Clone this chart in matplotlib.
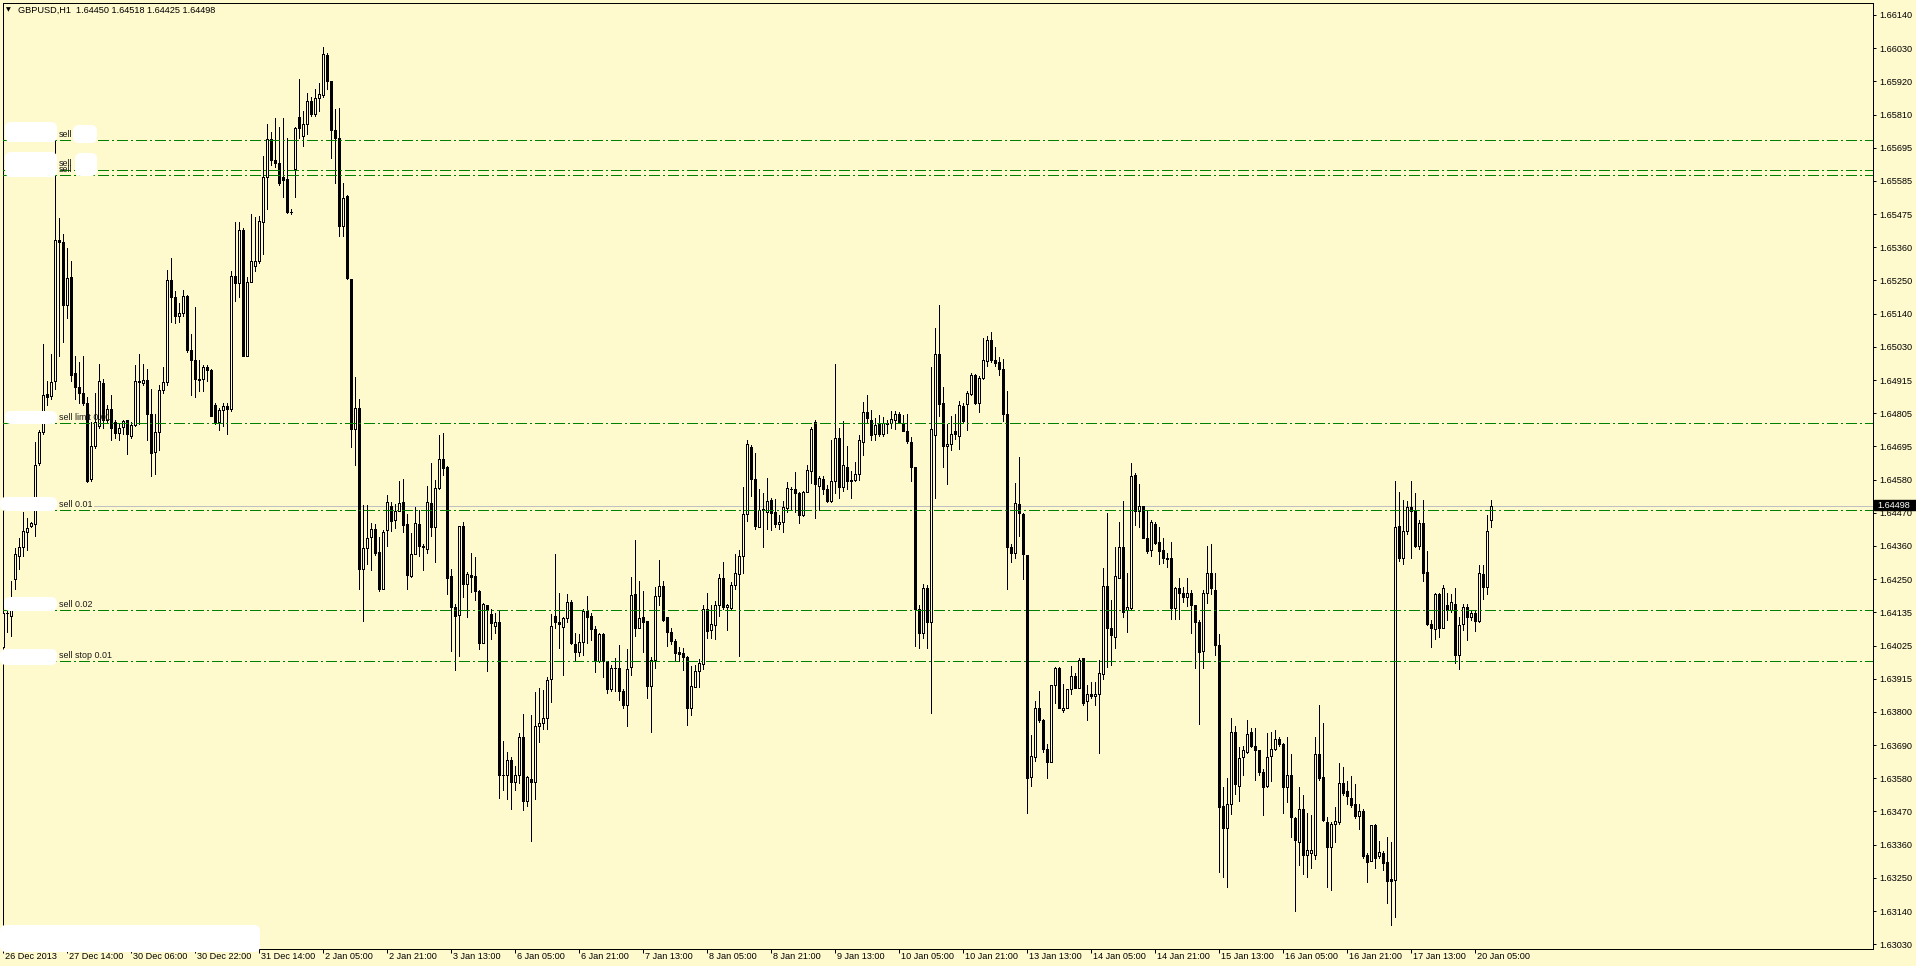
"""GBPUSD H1 candlestick chart, MT4 style -> out.png"""

import matplotlib

matplotlib.use("Agg")
import matplotlib.pyplot as plt  # noqa: E402
import numpy as np  # noqa: E402
from matplotlib import transforms  # noqa: E402
from matplotlib.patches import FancyBboxPatch, Rectangle  # noqa: E402

W, H = 1916, 966
BG = "#FFFACD"

opens = [
    1.64025, 1.64137, 1.64130, 1.64253, 1.64328, 1.64358, 1.64410, 1.64430, 1.64437, 1.64639,
    1.64744, 1.64870, 1.64865, 1.64915, 1.65387, 1.65380, 1.65168, 1.65264, 1.64943, 1.64895,
    1.64874, 1.64840, 1.64587, 1.64697, 1.64765, 1.64908, 1.64785, 1.64822, 1.64779, 1.64740,
    1.64762, 1.64785, 1.64731, 1.64768, 1.64913, 1.64908, 1.64919, 1.64803, 1.64676, 1.64744,
    1.64885, 1.64913, 1.65253, 1.65195, 1.65134, 1.65141, 1.65198, 1.65018, 1.64986, 1.64922,
    1.64922, 1.64962, 1.64953, 1.64836, 1.64779, 1.64817, 1.64832, 1.64820, 1.65266, 1.65243,
    1.65421, 1.64997, 1.65247, 1.65300, 1.65315, 1.65448, 1.65598, 1.65724, 1.65656, 1.65646,
    1.65598, 1.65591, 1.65479, 1.65626, 1.65799, 1.65735, 1.65776, 1.65851, 1.65810, 1.65861,
    1.65871, 1.66005, 1.65919, 1.65755, 1.65728, 1.65432, 1.65533, 1.65257, 1.64754, 1.64825,
    1.64287, 1.64355, 1.64394, 1.64418, 1.64342, 1.64220, 1.64415, 1.64495, 1.64449, 1.64481,
    1.64509, 1.64435, 1.64263, 1.64335, 1.64435, 1.64364, 1.64352, 1.64506, 1.64425, 1.64557,
    1.64653, 1.64628, 1.64263, 1.64157, 1.64133, 1.64430, 1.64235, 1.64265, 1.64262, 1.64211,
    1.64039, 1.64164, 1.64136, 1.64096, 1.64107, 1.63598, 1.63595, 1.63646, 1.63572, 1.63597,
    1.63723, 1.63511, 1.63584, 1.63572, 1.63762, 1.63770, 1.63788, 1.63917, 1.64127, 1.64110,
    1.64093, 1.64121, 1.64175, 1.64034, 1.64009, 1.64042, 1.64144, 1.64128, 1.64085, 1.63977,
    1.64068, 1.63977, 1.63884, 1.63955, 1.63955, 1.63878, 1.63832, 1.63957, 1.64201, 1.64088,
    1.64124, 1.64111, 1.63895, 1.63981, 1.64194, 1.64228, 1.64124, 1.64076, 1.64045, 1.64008,
    1.64004, 1.63991, 1.63819, 1.63892, 1.63943, 1.63969, 1.64153, 1.64081, 1.64099, 1.64164,
    1.64257, 1.64158, 1.64155, 1.64232, 1.64269, 1.64328, 1.64469, 1.64693, 1.64588, 1.64427,
    1.64482, 1.64477, 1.64517, 1.64477, 1.64435, 1.64442, 1.64491, 1.64552, 1.64552, 1.64540,
    1.64465, 1.64544, 1.64615, 1.64779, 1.64565, 1.64587, 1.64554, 1.64515, 1.64579, 1.64724,
    1.64560, 1.64627, 1.64585, 1.64584, 1.64603, 1.64711, 1.64811, 1.64784, 1.64736, 1.64771,
    1.64738, 1.64771, 1.64775, 1.64784, 1.64803, 1.64776, 1.64748, 1.64712, 1.64627, 1.64151,
    1.64070, 1.64222, 1.64108, 1.64734, 1.65004, 1.64840, 1.64696, 1.64704, 1.64748, 1.64730,
    1.64830, 1.64837, 1.64872, 1.64934, 1.64840, 1.64926, 1.64983, 1.65052, 1.64984, 1.64978,
    1.64955, 1.64805, 1.64361, 1.64338, 1.64503, 1.64471, 1.64333, 1.63589, 1.63656, 1.63820,
    1.63780, 1.63684, 1.63641, 1.63897, 1.63956, 1.63814, 1.63822, 1.63883, 1.63927, 1.63889,
    1.63987, 1.63843, 1.63866, 1.63860, 1.63866, 1.63935, 1.64229, 1.64087, 1.64059, 1.64257,
    1.64358, 1.64150, 1.64156, 1.64600, 1.64481, 1.64498, 1.64391, 1.64349, 1.64438, 1.64376,
    1.64349, 1.64323, 1.64322, 1.64154, 1.64221, 1.64204, 1.64193, 1.64207, 1.64165, 1.64109,
    1.64012, 1.64204, 1.64271, 1.64217, 1.64030, 1.63492, 1.63420, 1.63498, 1.63739, 1.63560,
    1.63657, 1.63672, 1.63739, 1.63694, 1.63680, 1.63607, 1.63560, 1.63661, 1.63682, 1.63716,
    1.63700, 1.63557, 1.63596, 1.63454, 1.63373, 1.63484, 1.63330, 1.63334, 1.63328, 1.63668,
    1.63590, 1.63440, 1.63356, 1.63434, 1.63440, 1.63568, 1.63542, 1.63518, 1.63501, 1.63460,
    1.63476, 1.63328, 1.63309, 1.63429, 1.63325, 1.63337, 1.63306, 1.63247, 1.63244, 1.64429,
    1.64324, 1.64414, 1.64492, 1.64483, 1.64362, 1.64441, 1.64276, 1.64101, 1.64086, 1.64202,
    1.64089, 1.64165, 1.64150, 1.64170, 1.63998, 1.64101, 1.64157, 1.64124, 1.64137, 1.64112,
    1.64269, 1.64224, 1.64450,
]
highs = [
    1.64178, 1.64178, 1.64246, 1.64355, 1.64389, 1.64478, 1.64458, 1.64444, 1.64710, 1.64751,
    1.65038, 1.64915, 1.65004, 1.65721, 1.65462, 1.65407, 1.65359, 1.65318, 1.64997, 1.64977,
    1.64997, 1.64861, 1.64779, 1.64874, 1.64973, 1.64922, 1.64833, 1.64867, 1.64785, 1.64772,
    1.64785, 1.64785, 1.64779, 1.64970, 1.65004, 1.64973, 1.64956, 1.64888, 1.64806, 1.64902,
    1.64963, 1.65288, 1.65325, 1.65216, 1.65175, 1.65220, 1.65202, 1.65072, 1.65161, 1.64984,
    1.64967, 1.64970, 1.64956, 1.64840, 1.64826, 1.64840, 1.64840, 1.65284, 1.65448, 1.65448,
    1.65427, 1.65264, 1.65475, 1.65464, 1.65468, 1.65667, 1.65776, 1.65748, 1.65796, 1.65765,
    1.65796, 1.65728, 1.65489, 1.65765, 1.65926, 1.65817, 1.65878, 1.65865, 1.65892, 1.65912,
    1.66033, 1.66011, 1.65919, 1.65824, 1.65830, 1.65578, 1.65537, 1.65257, 1.64929, 1.64854,
    1.64499, 1.64499, 1.64441, 1.64435, 1.64394, 1.64416, 1.64532, 1.64509, 1.64503, 1.64580,
    1.64586, 1.64469, 1.64407, 1.64492, 1.64483, 1.64371, 1.64563, 1.64642, 1.64583, 1.64733,
    1.64741, 1.64630, 1.64285, 1.64167, 1.64430, 1.64443, 1.64277, 1.64339, 1.64326, 1.64215,
    1.64172, 1.64164, 1.64153, 1.64138, 1.64147, 1.63711, 1.63672, 1.63658, 1.63626, 1.63737,
    1.63802, 1.63593, 1.63798, 1.63875, 1.63887, 1.63881, 1.63926, 1.64136, 1.64336, 1.64206,
    1.64124, 1.64201, 1.64181, 1.64073, 1.64068, 1.64153, 1.64196, 1.64138, 1.64096, 1.64073,
    1.64070, 1.63979, 1.63966, 1.63989, 1.64032, 1.63884, 1.64019, 1.64258, 1.64382, 1.64245,
    1.64213, 1.64113, 1.63991, 1.64226, 1.64317, 1.64245, 1.64124, 1.64088, 1.64051, 1.64025,
    1.64022, 1.63994, 1.63960, 1.63964, 1.63983, 1.64164, 1.64204, 1.64164, 1.64179, 1.64269,
    1.64308, 1.64170, 1.64243, 1.64336, 1.64348, 1.64560, 1.64718, 1.64701, 1.64675, 1.64552,
    1.64540, 1.64590, 1.64523, 1.64519, 1.64465, 1.64515, 1.64577, 1.64560, 1.64609, 1.64542,
    1.64546, 1.64635, 1.64761, 1.64784, 1.64598, 1.64598, 1.64568, 1.64719, 1.64972, 1.64759,
    1.64782, 1.64696, 1.64615, 1.64644, 1.64733, 1.64845, 1.64869, 1.64819, 1.64791, 1.64802,
    1.64794, 1.64784, 1.64813, 1.64814, 1.64811, 1.64802, 1.64803, 1.64727, 1.64627, 1.64166,
    1.64235, 1.64231, 1.64961, 1.65093, 1.65168, 1.64895, 1.64771, 1.64799, 1.64805, 1.64849,
    1.64842, 1.64880, 1.64941, 1.64937, 1.64932, 1.65059, 1.65067, 1.65079, 1.65030, 1.64995,
    1.64990, 1.64880, 1.64370, 1.64572, 1.64661, 1.64473, 1.64333, 1.63730, 1.63843, 1.63877,
    1.63785, 1.63699, 1.63897, 1.63958, 1.63958, 1.63901, 1.63883, 1.63962, 1.63939, 1.63989,
    1.63989, 1.63897, 1.63906, 1.63906, 1.63981, 1.64289, 1.64473, 1.64183, 1.64358, 1.64444,
    1.64513, 1.64271, 1.64642, 1.64608, 1.64570, 1.64498, 1.64483, 1.64449, 1.64444, 1.64425,
    1.64391, 1.64340, 1.64375, 1.64226, 1.64257, 1.64226, 1.64256, 1.64217, 1.64165, 1.64115,
    1.64215, 1.64362, 1.64369, 1.64271, 1.64068, 1.63557, 1.63585, 1.63788, 1.63760, 1.63691,
    1.63693, 1.63780, 1.63755, 1.63755, 1.63680, 1.63618, 1.63738, 1.63739, 1.63746, 1.63724,
    1.63702, 1.63724, 1.63668, 1.63456, 1.63557, 1.63529, 1.63468, 1.63462, 1.63722, 1.63829,
    1.63772, 1.63456, 1.63440, 1.63490, 1.63635, 1.63622, 1.63577, 1.63593, 1.63566, 1.63501,
    1.63481, 1.63334, 1.63429, 1.63432, 1.63375, 1.63343, 1.63389, 1.63373, 1.64580, 1.64544,
    1.64518, 1.64514, 1.64580, 1.64539, 1.64449, 1.64518, 1.64346, 1.64115, 1.64204, 1.64204,
    1.64232, 1.64204, 1.64202, 1.64221, 1.64126, 1.64168, 1.64168, 1.64150, 1.64146, 1.64299,
    1.64299, 1.64466, 1.64518,
]
lows = [
    1.64020, 1.64075, 1.64061, 1.64219, 1.64287, 1.64328, 1.64348, 1.64426, 1.64396, 1.64635,
    1.64738, 1.64833, 1.64854, 1.64888, 1.64997, 1.65045, 1.65127, 1.64915, 1.64854, 1.64840,
    1.64836, 1.64578, 1.64581, 1.64690, 1.64758, 1.64758, 1.64779, 1.64717, 1.64724, 1.64717,
    1.64738, 1.64669, 1.64724, 1.64765, 1.64772, 1.64902, 1.64717, 1.64597, 1.64604, 1.64683,
    1.64874, 1.64902, 1.65113, 1.65109, 1.65113, 1.65134, 1.65011, 1.64867, 1.64863, 1.64881,
    1.64881, 1.64915, 1.64799, 1.64772, 1.64751, 1.64765, 1.64738, 1.64813, 1.65182, 1.65195,
    1.64997, 1.64997, 1.65247, 1.65284, 1.65311, 1.65339, 1.65489, 1.65639, 1.65632, 1.65571,
    1.65530, 1.65478, 1.65475, 1.65530, 1.65728, 1.65703, 1.65742, 1.65803, 1.65803, 1.65817,
    1.65865, 1.65892, 1.65660, 1.65578, 1.65400, 1.65400, 1.65257, 1.64694, 1.64635, 1.64219,
    1.64112, 1.64301, 1.64283, 1.64334, 1.64213, 1.64220, 1.64362, 1.64413, 1.64422, 1.64481,
    1.64409, 1.64220, 1.64260, 1.64335, 1.64328, 1.64283, 1.64339, 1.64396, 1.64308, 1.64552,
    1.64602, 1.64201, 1.64013, 1.63949, 1.63994, 1.64192, 1.64124, 1.64209, 1.64181, 1.64017,
    1.64039, 1.63946, 1.64051, 1.64073, 1.63519, 1.63547, 1.63516, 1.63482, 1.63545, 1.63570,
    1.63480, 1.63491, 1.63375, 1.63516, 1.63708, 1.63751, 1.63751, 1.63841, 1.64090, 1.64022,
    1.63932, 1.64107, 1.64034, 1.63980, 1.63994, 1.63998, 1.64039, 1.64047, 1.63941, 1.63975,
    1.63923, 1.63870, 1.63878, 1.63878, 1.63847, 1.63819, 1.63762, 1.63932, 1.64060, 1.64088,
    1.64009, 1.63855, 1.63740, 1.63955, 1.64164, 1.64113, 1.64028, 1.64034, 1.63977, 1.63977,
    1.63949, 1.63765, 1.63798, 1.63892, 1.63892, 1.63951, 1.64056, 1.64056, 1.64053, 1.64130,
    1.64153, 1.64082, 1.64153, 1.64220, 1.63996, 1.64271, 1.64447, 1.64531, 1.64419, 1.64425,
    1.64358, 1.64419, 1.64416, 1.64425, 1.64419, 1.64408, 1.64477, 1.64482, 1.64477, 1.64440,
    1.64462, 1.64542, 1.64572, 1.64457, 1.64482, 1.64538, 1.64511, 1.64511, 1.64540, 1.64523,
    1.64546, 1.64554, 1.64523, 1.64579, 1.64584, 1.64667, 1.64773, 1.64716, 1.64719, 1.64730,
    1.64730, 1.64742, 1.64757, 1.64753, 1.64773, 1.64748, 1.64707, 1.64580, 1.64027, 1.64021,
    1.64054, 1.64021, 1.63805, 1.64523, 1.64799, 1.64627, 1.64569, 1.64684, 1.64722, 1.64688,
    1.64773, 1.64750, 1.64869, 1.64837, 1.64811, 1.64923, 1.64964, 1.64978, 1.64966, 1.64934,
    1.64780, 1.64220, 1.64310, 1.64323, 1.64396, 1.64252, 1.63468, 1.63558, 1.63644, 1.63774,
    1.63673, 1.63586, 1.63639, 1.63837, 1.63820, 1.63808, 1.63822, 1.63869, 1.63886, 1.63886,
    1.63831, 1.63780, 1.63854, 1.63831, 1.63670, 1.63918, 1.63958, 1.63964, 1.64023, 1.64257,
    1.64126, 1.64076, 1.64148, 1.64433, 1.64427, 1.64388, 1.64340, 1.64329, 1.64371, 1.64302,
    1.64307, 1.64293, 1.64117, 1.64119, 1.64118, 1.64176, 1.64163, 1.64072, 1.63955, 1.63767,
    1.63955, 1.64173, 1.64202, 1.63997, 1.63272, 1.63256, 1.63220, 1.63465, 1.63532, 1.63510,
    1.63596, 1.63671, 1.63691, 1.63581, 1.63598, 1.63462, 1.63557, 1.63577, 1.63680, 1.63693,
    1.63470, 1.63507, 1.63390, 1.63142, 1.63295, 1.63265, 1.63256, 1.63284, 1.63314, 1.63581,
    1.63442, 1.63222, 1.63211, 1.63373, 1.63434, 1.63531, 1.63498, 1.63488, 1.63451, 1.63414,
    1.63317, 1.63239, 1.63309, 1.63284, 1.63317, 1.63278, 1.63169, 1.63095, 1.63120, 1.64313,
    1.64302, 1.64402, 1.64321, 1.64358, 1.64354, 1.64246, 1.64098, 1.64025, 1.64053, 1.64057,
    1.64087, 1.64115, 1.64143, 1.63972, 1.63952, 1.64081, 1.64048, 1.64115, 1.64079, 1.64109,
    1.64187, 1.64201, 1.64425,
]
closes = [
    1.64137, 1.64139, 1.64191, 1.64335, 1.64358, 1.64413, 1.64423, 1.64440, 1.64635, 1.64744,
    1.64867, 1.64861, 1.64913, 1.65387, 1.65380, 1.65168, 1.65259, 1.64936, 1.64895, 1.64874,
    1.64840, 1.64581, 1.64697, 1.64779, 1.64915, 1.64785, 1.64822, 1.64758, 1.64740, 1.64758,
    1.64781, 1.64738, 1.64768, 1.64915, 1.64915, 1.64919, 1.64803, 1.64673, 1.64744, 1.64885,
    1.64913, 1.65253, 1.65195, 1.65134, 1.65141, 1.65198, 1.65018, 1.64986, 1.64922, 1.64918,
    1.64962, 1.64953, 1.64799, 1.64779, 1.64817, 1.64832, 1.64820, 1.65266, 1.65243, 1.65421,
    1.64997, 1.65247, 1.65315, 1.65315, 1.65451, 1.65598, 1.65724, 1.65656, 1.65646, 1.65578,
    1.65589, 1.65479, 1.65480, 1.65762, 1.65762, 1.65776, 1.65851, 1.65810, 1.65861, 1.65874,
    1.66008, 1.65919, 1.65755, 1.65728, 1.65432, 1.65526, 1.65259, 1.64754, 1.64825, 1.64287,
    1.64355, 1.64389, 1.64421, 1.64339, 1.64220, 1.64411, 1.64509, 1.64446, 1.64481, 1.64506,
    1.64432, 1.64267, 1.64337, 1.64439, 1.64362, 1.64359, 1.64509, 1.64428, 1.64557, 1.64653,
    1.64624, 1.64257, 1.64158, 1.64130, 1.64430, 1.64235, 1.64269, 1.64260, 1.64211, 1.64039,
    1.64170, 1.64147, 1.64106, 1.64107, 1.63598, 1.63595, 1.63646, 1.63572, 1.63595, 1.63723,
    1.63511, 1.63589, 1.63574, 1.63762, 1.63771, 1.63788, 1.63915, 1.64094, 1.64107, 1.64102,
    1.64121, 1.64175, 1.64039, 1.64009, 1.64043, 1.64146, 1.64124, 1.64085, 1.63977, 1.64068,
    1.63977, 1.63884, 1.63955, 1.63953, 1.63878, 1.63832, 1.63951, 1.64198, 1.64088, 1.64122,
    1.64107, 1.63895, 1.63981, 1.64194, 1.64228, 1.64116, 1.64076, 1.64045, 1.64006, 1.64002,
    1.63992, 1.63819, 1.63895, 1.63943, 1.63972, 1.64153, 1.64079, 1.64102, 1.64164, 1.64257,
    1.64158, 1.64164, 1.64232, 1.64271, 1.64328, 1.64469, 1.64704, 1.64588, 1.64431, 1.64482,
    1.64486, 1.64512, 1.64473, 1.64436, 1.64442, 1.64494, 1.64556, 1.64554, 1.64540, 1.64465,
    1.64544, 1.64617, 1.64753, 1.64569, 1.64590, 1.64555, 1.64515, 1.64580, 1.64724, 1.64560,
    1.64635, 1.64579, 1.64579, 1.64603, 1.64718, 1.64811, 1.64790, 1.64733, 1.64768, 1.64736,
    1.64773, 1.64773, 1.64788, 1.64803, 1.64776, 1.64748, 1.64713, 1.64627, 1.64152, 1.64070,
    1.64222, 1.64108, 1.64753, 1.65004, 1.64837, 1.64699, 1.64704, 1.64738, 1.64736, 1.64833,
    1.64782, 1.64874, 1.64935, 1.64840, 1.64925, 1.64984, 1.65052, 1.64984, 1.64976, 1.64955,
    1.64803, 1.64361, 1.64338, 1.64506, 1.64473, 1.64335, 1.63586, 1.63659, 1.63820, 1.63780,
    1.63682, 1.63641, 1.63897, 1.63956, 1.63822, 1.63820, 1.63883, 1.63927, 1.63889, 1.63981,
    1.63839, 1.63866, 1.63862, 1.63866, 1.63937, 1.64229, 1.64087, 1.64064, 1.64262, 1.64358,
    1.64143, 1.64159, 1.64597, 1.64481, 1.64496, 1.64391, 1.64346, 1.64443, 1.64373, 1.64347,
    1.64323, 1.64318, 1.64154, 1.64221, 1.64204, 1.64193, 1.64207, 1.64165, 1.64109, 1.64009,
    1.64204, 1.64271, 1.64221, 1.64033, 1.63490, 1.63420, 1.63501, 1.63739, 1.63565, 1.63652,
    1.63680, 1.63732, 1.63693, 1.63680, 1.63607, 1.63557, 1.63655, 1.63683, 1.63716, 1.63699,
    1.63557, 1.63596, 1.63456, 1.63378, 1.63484, 1.63328, 1.63347, 1.63347, 1.63666, 1.63587,
    1.63445, 1.63356, 1.63432, 1.63442, 1.63568, 1.63537, 1.63527, 1.63496, 1.63460, 1.63477,
    1.63325, 1.63306, 1.63429, 1.63320, 1.63339, 1.63303, 1.63242, 1.63241, 1.64425, 1.64324,
    1.64414, 1.64492, 1.64481, 1.64362, 1.64441, 1.64274, 1.64101, 1.64087, 1.64202, 1.64089,
    1.64221, 1.64148, 1.64174, 1.63998, 1.64100, 1.64157, 1.64124, 1.64137, 1.64112, 1.64271,
    1.64224, 1.64412, 1.64498,
]

date_labels = [
    "26 Dec 2013", "27 Dec 14:00", "30 Dec 06:00", "30 Dec 22:00", "31 Dec 14:00",
    "2 Jan 05:00", "2 Jan 21:00", "3 Jan 13:00", "6 Jan 05:00", "6 Jan 21:00",
    "7 Jan 13:00", "8 Jan 05:00", "8 Jan 21:00", "9 Jan 13:00", "10 Jan 05:00",
    "10 Jan 21:00", "13 Jan 13:00", "14 Jan 05:00", "14 Jan 21:00", "15 Jan 13:00",
    "16 Jan 05:00", "16 Jan 21:00", "17 Jan 13:00", "20 Jan 05:00",
]
bars_per_label = 16

price_labels = [
    "1.66140", "1.66030", "1.65920", "1.65810", "1.65695", "1.65585", "1.65475", "1.65360",
    "1.65250", "1.65140", "1.65030", "1.64915", "1.64805", "1.64695", "1.64580", "1.64470",
    "1.64360", "1.64250", "1.64135", "1.64025", "1.63915", "1.63800", "1.63690", "1.63580",
    "1.63470", "1.63360", "1.63250", "1.63140", "1.63030",
]

order_prices = [1.65720, 1.65622, 1.65604, 1.64773, 1.64483, 1.64148, 1.63977]
order_labels = ["sell", "sell", "sell", "sell limit 0.01", "sell 0.01", "sell 0.02", "sell stop 0.01"]

bid = 1.64498
header = "GBPUSD,H1  1.64450 1.64518 1.64425 1.64498"

plt.rcParams["font.family"] = ["Liberation Sans", "DejaVu Sans"]
plt.rcParams["lines.scale_dashes"] = False
FS = 6.6
PX = 0.72  # one pixel in points

fig = plt.figure(figsize=(W / 100, H / 100), dpi=100, facecolor=BG)

# axes box in pixels (top-left origin)
L, T, R, B = 2.7, 3.0, 1873.0, 949.0
ax = fig.add_axes([L / W, 1 - B / H, (R - L) / W, (B - T) / H])
ax.set_facecolor(BG)

o, h, l, c = (np.array(v) for v in (opens, highs, lows, closes))
h = np.maximum(h, np.maximum(o, c))
l = np.minimum(l, np.minimum(o, c))
x = np.arange(len(c))
up = c >= o

ax.vlines(x, l, h, color="black", lw=PX, antialiased=False, zorder=2)
ax.bar(x, np.abs(c - o), bottom=np.minimum(o, c), width=0.5,
       color=np.where(up, BG, "black"), edgecolor="black", linewidth=PX,
       antialiased=False, zorder=3)

# 4 px per bar
x0 = -0.16
ax.set_xlim(x0, x0 + (R - L) / 4.0)
ax.set_ylim(1.6619 - B / 29881, 1.6619 - T / 29881)

# current bid line (hidden behind the order label at the left)
ax.axhline(bid, xmin=(94 - L) / (R - L), color="#C0C0C0", lw=PX, zorder=1)

# pending / open order lines
for p in order_prices:
    ax.axhline(p, color="#008000", lw=PX, ls=(0, (7.2, 2.4, 1.4, 2.4)),
               antialiased=False, zorder=4)

lab_tr = transforms.blended_transform_factory(fig.transFigure, ax.transData)
lab_tr = lab_tr + transforms.ScaledTranslation(0, 1.5 / 100, fig.dpi_scale_trans)
for p, s in zip(order_prices, order_labels):
    ax.text(59 / W, p, s, transform=lab_tr, fontsize=6.4, color="#1a1a1a",
            va="bottom", ha="left", zorder=5, clip_on=False)

# y axis on the right
ax.yaxis.tick_right()
ax.set_yticks(np.linspace(float(price_labels[0]), float(price_labels[-1]), len(price_labels)))
ax.set_yticklabels(price_labels)
ax.tick_params(axis="y", direction="out", length=2.5, width=PX, pad=2.0,
               labelsize=FS, colors="black")

# x axis: ticks at every 16th bar, labels start just right of the tick
xt = np.arange(len(date_labels)) * bars_per_label
ax.set_xticks(xt)
ax.set_xticklabels([])
ax.tick_params(axis="x", direction="out", length=3, width=PX, colors="black")
date_tr = transforms.blended_transform_factory(ax.transData, ax.transAxes)
date_tr = date_tr + transforms.ScaledTranslation(2 / 100, -3 / 100, fig.dpi_scale_trans)
for xi, s in zip(xt, date_labels):
    ax.text(xi, 0, s, transform=date_tr, fontsize=FS, va="top", ha="left", clip_on=False)

for sp in ax.spines.values():
    sp.set_linewidth(PX)
    sp.set_color("black")

# header
fig.text(6 / W, 1 - 10 / H, "\u25bc", fontsize=4.5, family="DejaVu Sans", va="center")
fig.text(18 / W, 1 - 10 / H, header, fontsize=FS, va="center")

# bid price box on the axis
fig.add_artist(Rectangle((1874 / W, 1 - 510.5 / H), 42 / W, 10 / H,
                         transform=fig.transFigure, color="black", zorder=5))
fig.text(1877 / W, 1 - 505.5 / H, f"{bid:.5f}", color="white", fontsize=FS,
         va="center", zorder=6)

# white blots over the left side of the chart (pixel boxes, top-left origin)
blots = [(5, 122, 57, 142), (73, 125, 97, 143), (5, 152, 57, 177), (75, 153, 97, 176),
         (5, 411, 57, 424), (0, 497, 57, 511), (4, 597, 57, 611), (0, 649, 57, 665),
         (0, 925, 260, 952)]
for bx0, by0, bx1, by1 in blots:
    fig.add_artist(FancyBboxPatch((bx0, H - by1), bx1 - bx0, by1 - by0,
                                  boxstyle="round,pad=0,rounding_size=6",
                                  transform=transforms.IdentityTransform(),
                                  fc="white", ec="none", zorder=4))

fig.savefig("out.png", dpi=100, facecolor=BG)
print("saved out.png")
